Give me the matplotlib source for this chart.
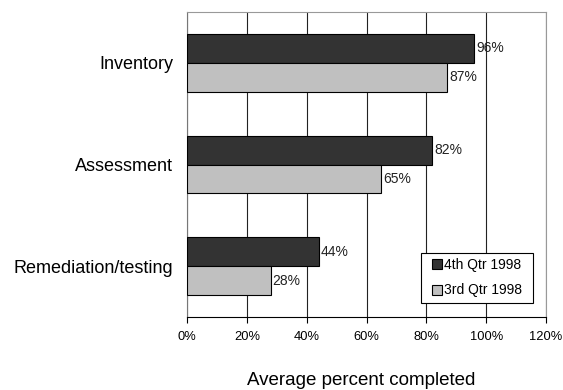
import matplotlib
matplotlib.use("Agg")
import matplotlib.pyplot as plt
import numpy as np
from matplotlib.ticker import FuncFormatter, MultipleLocator
from matplotlib.patches import Rectangle
from matplotlib.container import BarContainer
from matplotlib.legend_handler import HandlerPatch, update_from_first_child

plt.rcParams['font.family'] = ['Liberation Sans', 'DejaVu Sans']

categories = ["Inventory", "Assessment", "Remediation/testing"]
q4_1998 = [96, 82, 44]
q3_1998 = [87, 65, 28]
series_labels = ["4th Qtr 1998", "3rd Qtr 1998"]
colors = ["#333333", "#c0c0c0"]

fig = plt.figure(figsize=(5.63, 3.90), dpi=100)
ax = fig.add_axes([187/563, 1-317/390, (546-187)/563, (317-12)/390])

y = np.arange(len(categories))
h = 0.285
b1 = ax.barh(y - h/2, q4_1998, height=h, color=colors[0], edgecolor="black", linewidth=0.8,
             label=series_labels[0], zorder=3)
b2 = ax.barh(y + h/2, q3_1998, height=h, color=colors[1], edgecolor="black", linewidth=0.8,
             label=series_labels[1], zorder=3)
for bars, vals in ((b1, q4_1998), (b2, q3_1998)):
    for rect, v in zip(bars, vals):
        ax.text(rect.get_width() + 0.6, rect.get_y() + rect.get_height()/2, f"{v}%",
                va="center", ha="left", fontsize=10, color="#222222", zorder=4)

ax.set_xlim(0, 120)
ax.set_ylim(len(categories) - 0.5, -0.5)
ax.xaxis.set_major_locator(MultipleLocator(20))
ax.xaxis.set_major_formatter(FuncFormatter(lambda v, p: f"{int(v)}%"))
ax.set_yticks(y)
ax.set_yticklabels(categories, fontsize=13)
ax.tick_params(axis="y", length=0, pad=10)
ax.tick_params(axis="x", labelsize=9.3, length=4, direction="out", pad=6, color="black")
ax.grid(axis="x", color="#222222", linewidth=0.8, zorder=0)
for s in ("top", "right"):
    ax.spines[s].set_color("#999999")
    ax.spines[s].set_linewidth(0.8)
ax.spines["left"].set_color("#777777")
ax.spines["bottom"].set_color("black")
ax.set_xlabel("Average percent completed", fontsize=13.5)
ax.xaxis.set_label_coords(0.485, -0.18, transform=ax.transAxes)


def square(legend, orig_handle, xdescent, ydescent, width, height, fontsize):
    s = 7.2
    return Rectangle((width - s - xdescent, (height - s) / 2 - ydescent), s, s)


leg = ax.legend(loc="lower left",
                bbox_to_anchor=(421/563, 1-303/390, 112/563, 50/390), bbox_transform=fig.transFigure,
                mode="expand",
                fontsize=10, frameon=True, fancybox=False, edgecolor="black", framealpha=1,
                handlelength=1.11, handleheight=0.75, handletextpad=0.14, labelspacing=0.8,
                borderpad=0.4, borderaxespad=0,
                handler_map={BarContainer: HandlerPatch(patch_func=square,
                                                        update_func=update_from_first_child)})
leg.get_frame().set_linewidth(0.8)

fig.savefig("out.png", dpi=100)
